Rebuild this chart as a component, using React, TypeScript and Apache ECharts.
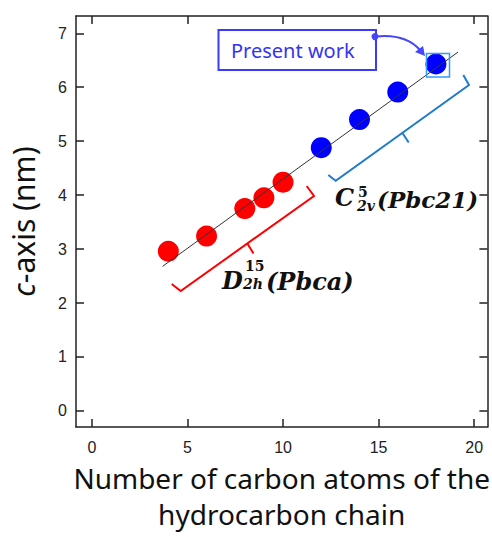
import React, { useEffect, useRef } from "react";
import * as echarts from "echarts";

const xTicks = [0, 5, 10, 15, 20];
const yTicks = [0, 1, 2, 3, 4, 5, 6, 7];
const redCarbon = [4, 6, 8, 9, 10];
const redC = [2.96, 3.24, 3.75, 3.95, 4.24];
const blueCarbon = [12, 14, 16, 18];
const blueC = [4.88, 5.4, 5.91, 6.43];
const fitX = [3.7, 19.15];
const fitY = [2.68, 6.65];

const xTitle = "Number of carbon atoms of the\nhydrocarbon chain";

export default function App() {
  const ref = useRef<HTMLDivElement>(null);
  useEffect(() => {
    if (!ref.current) return;
    const chart = echarts.init(ref.current, null, { renderer: "svg" });
    const tickFont = {
      fontFamily: "'Liberation Sans Narrow', 'Liberation Sans', sans-serif",
      fontSize: 16,
      color: "#222",
    };
    const mathFont = "'DejaVu Serif', serif";
    const line = { lineStyle: { color: "#222", width: 1.5 } };
    const tick = { show: true, inside: true, length: 8, lineStyle: { color: "#222", width: 1.5 } };
    const option: any = {
      animation: false,
      backgroundColor: "#fff",
      grid: { left: 74, top: 16, width: 416, height: 417, containLabel: false },
      xAxis: [
        {
          type: "value",
          min: -0.83,
          max: 20.69,
          position: "bottom",
          axisLine: { show: true, onZero: false, ...line },
          axisTick: { ...tick, customValues: xTicks },
          axisLabel: { customValues: xTicks, margin: 12, ...tickFont },
          splitLine: { show: false },
          name: xTitle,
          nameLocation: "middle",
          nameGap: 29,
          nameTextStyle: {
            fontFamily: "'Noto Sans', sans-serif",
            fontSize: 28,
            lineHeight: 36,
            color: "#111",
          },
        },
        {
          type: "value",
          min: -0.83,
          max: 20.69,
          position: "top",
          axisLine: { show: true, onZero: false, ...line },
          axisTick: { ...tick, customValues: xTicks },
          axisLabel: { show: false },
          splitLine: { show: false },
        },
      ],
      yAxis: [
        {
          type: "value",
          min: -0.3,
          max: 7.32,
          position: "left",
          axisLine: { show: true, onZero: false, ...line },
          axisTick: { ...tick, customValues: yTicks },
          axisLabel: { customValues: yTicks, margin: 9, ...tickFont },
          splitLine: { show: false },
          name: "{i|c}-axis (nm)",
          nameLocation: "middle",
          nameGap: 38,
          nameTextStyle: {
            fontFamily: "'Noto Sans', sans-serif",
            fontSize: 30,
            color: "#111",
            rich: {
              i: { fontFamily: "'Noto Sans', sans-serif", fontSize: 30, fontStyle: "italic", color: "#111" },
            },
          },
        },
        {
          type: "value",
          min: -0.3,
          max: 7.32,
          position: "right",
          axisLine: { show: true, onZero: false, ...line },
          axisTick: { ...tick, customValues: yTicks },
          axisLabel: { show: false },
          splitLine: { show: false },
        },
      ],
      series: [
        {
          type: "scatter",
          data: redCarbon.map((x, i) => [x, redC[i]]),
          symbolSize: 21,
          itemStyle: { color: "#ff0000", opacity: 1 },
          z: 2,
        },
        {
          type: "scatter",
          data: blueCarbon.map((x, i) => [x, blueC[i]]),
          symbolSize: 21,
          itemStyle: { color: "#0000ff", opacity: 1 },
          z: 2,
        },
        {
          type: "line",
          data: fitX.map((x, i) => [x, fitY[i]]),
          showSymbol: false,
          symbol: "none",
          lineStyle: { color: "#333", width: 1 },
          z: 3,
        },
      ],
      graphic: [
        // red bracket
        {
          type: "polyline",
          shape: { points: [[171.7, 284], [180.7, 291], [314, 196], [306.7, 186]] },
          style: { stroke: "#ff0000", lineWidth: 2, fill: null },
          z: 10,
        },
        {
          type: "line",
          shape: { x1: 247.3, y1: 243.5, x2: 253.5, y2: 253.5 },
          style: { stroke: "#ff0000", lineWidth: 2 },
          z: 10,
        },
        // blue bracket
        {
          type: "polyline",
          shape: { points: [[328.3, 175], [335.7, 180.7], [469, 85], [463.3, 75]] },
          style: { stroke: "#1e7ccc", lineWidth: 2, fill: null },
          z: 10,
        },
        {
          type: "line",
          shape: { x1: 402.3, y1: 132.8, x2: 408.7, y2: 142.5 },
          style: { stroke: "#1e7ccc", lineWidth: 2 },
          z: 10,
        },
        // D label
        { type: "text", x: 222, y: 280, z: 10, style: { text: "D", font: `italic bold 24px ${mathFont}`, fill: "#111", verticalAlign: "middle" } },
        { type: "text", x: 245, y: 265.5, z: 10, style: { text: "15", font: `bold 14px ${mathFont}`, fill: "#111", verticalAlign: "middle" } },
        { type: "text", x: 243, y: 284, z: 10, style: { text: "2h", font: `italic bold 14px ${mathFont}`, fill: "#111", verticalAlign: "middle" } },
        { type: "text", x: 266, y: 281, z: 10, style: { text: "(Pbca)", font: `italic bold 24px ${mathFont}`, fill: "#111", verticalAlign: "middle" } },
        // C label
        { type: "text", x: 335, y: 197.5, z: 10, style: { text: "C", font: `italic bold 24px ${mathFont}`, fill: "#111", verticalAlign: "middle" } },
        { type: "text", x: 358, y: 191.5, z: 10, style: { text: "5", font: `bold 14px ${mathFont}`, fill: "#111", verticalAlign: "middle" } },
        { type: "text", x: 357, y: 206, z: 10, style: { text: "2v", font: `italic bold 14px ${mathFont}`, fill: "#111", verticalAlign: "middle" } },
        { type: "text", x: 377, y: 199, z: 10, style: { text: "(Pbc21)", font: `italic bold 23px ${mathFont}`, fill: "#111", verticalAlign: "middle" } },
        // Present work box
        {
          type: "rect",
          shape: { x: 218.5, y: 30, width: 157.5, height: 40 },
          style: { fill: "#fff", stroke: "#3a3aff", lineWidth: 2 },
          z: 10,
        },
        {
          type: "text",
          x: 231,
          y: 50,
          z: 11,
          style: { text: "Present work", font: "20px 'Noto Sans', sans-serif", fill: "#3434f0", verticalAlign: "middle" },
        },
        { type: "circle", shape: { cx: 375, cy: 36.6, r: 3.5 }, style: { fill: "#4545ff" }, z: 12 },
        {
          type: "bezierCurve",
          shape: { x1: 375, y1: 36.6, cpx1: 398, cpy1: 34, cpx2: 411, cpy2: 40, x2: 420, y2: 50 },
          style: { stroke: "#4545ff", lineWidth: 2, fill: null },
          z: 12,
        },
        {
          type: "polygon",
          shape: { points: [[425, 56], [423, 46], [415, 52]] },
          style: { fill: "#4545ff" },
          z: 12,
        },
        // highlight square
        {
          type: "rect",
          shape: { x: 426.5, y: 53.5, width: 23, height: 23.5 },
          style: { fill: null, stroke: "#3399ff", lineWidth: 1.5 },
          z: 12,
        },
      ],
    };
    chart.setOption(option);
    return () => chart.dispose();
  }, []);
  return <div ref={ref} style={{ width: 492, height: 537, position: "absolute", left: 0, top: 0 }} />;
}
